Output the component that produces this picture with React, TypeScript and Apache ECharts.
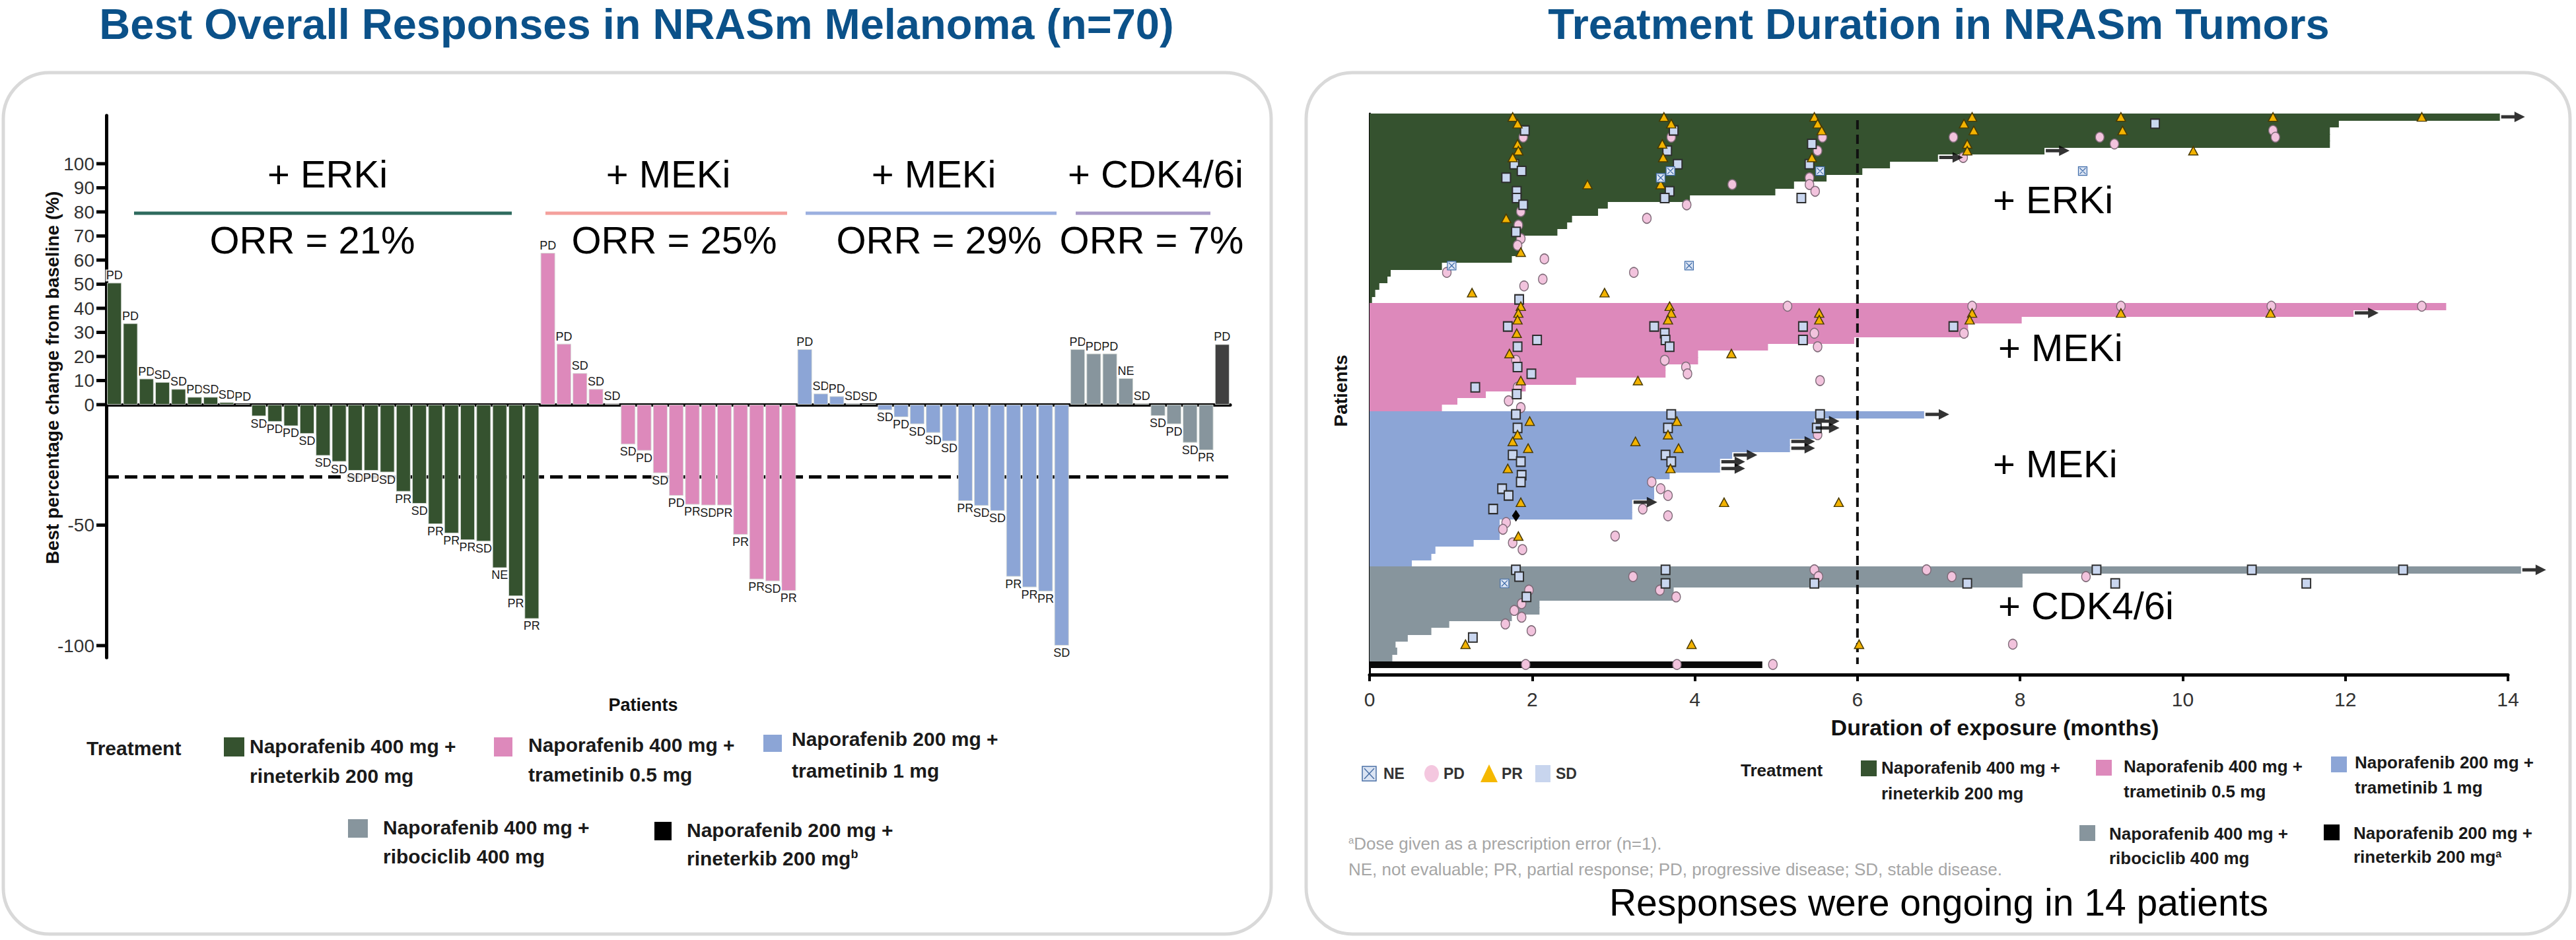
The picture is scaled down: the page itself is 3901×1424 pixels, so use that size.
import React, { useEffect, useRef } from "react";
import * as echarts from "echarts";

// ---------------- Left panel: waterfall data ----------------
const ERKI_VALUES = [50.6, 33.8, 10.8, 9.4, 6.5, 3.2, 3.2, 1, 0.3, -4.8, -7.1, -8.9, -12.1, -21.2, -23.7, -27.4, -27.4, -28.1, -36.1, -41.1, -49.6, -53.4, -56.2, -56.8, -67.8, -79.5, -88.9];
const ERKI_RESP = ["PD", "PD", "PD", "SD", "SD", "PD", "SD", "SD", "PD", "SD", "PD", "PD", "SD", "SD", "SD", "SD", "PD", "SD", "PR", "SD", "PR", "PR", "PR", "SD", "NE", "PR", "PR"];
const MEK05_VALUES = [63, 25.3, 13.1, 6.5, 0.5, -16.5, -19.1, -28.4, -37.8, -41.5, -41.8, -41.8, -54, -72.5, -73.3, -77.3];
const MEK05_RESP = ["PD", "PD", "SD", "SD", "SD", "SD", "PD", "SD", "PD", "PR", "SD", "PR", "PR", "PR", "SD", "PR"];
const MEK1_VALUES = [23, 4.6, 3.5, 0.5, 0.3, -2.3, -5.2, -8.1, -11.7, -15.2, -40, -42, -44.1, -71.4, -75.8, -77.5, -100];
const MEK1_RESP = ["PD", "SD", "PD", "SD", "SD", "SD", "PD", "SD", "SD", "SD", "PR", "SD", "SD", "PR", "PR", "PR", "SD"];
const CDK_VALUES = [23, 21.2, 21.2, 11, 0.5, -4.7, -8.1, -15.8, -18.9];
const CDK_RESP = ["PD", "PD", "PD", "NE", "SD", "SD", "PD", "SD", "PR"];
const ERK200_VALUES = [25.1];
const ERK200_RESP = ["PD"];
const Y_TICKS = [100, 90, 80, 70, 60, 50, 40, 30, 20, 10, 0, -50, -100];
const PR_THRESHOLD = -30;

// ---------------- Right panel: swimmer data ----------------
const GREEN_DUR = [13.9, 11.92, 11.81, 11.81, 11.81, 8.3, 6.99, 6.4, 6.06, 5.62, 5.22, 4.99, 3.94, 2.93, 2.81, 2.49, 2.43, 2.31, 1.87, 1.87, 1.87, 1.75, 0.89, 0.26, 0.22, 0.12, 0.07, 0.03];
const GREEN_ONGOING = [0, 5, 6];
const GREEN_ASSESS: [number, number, string][] = [
  [0, 1.76, "PR"], [1, 1.82, "PR"], [2, 1.91, "SD"], [3, 1.89, "PD"], [4, 1.82, "PR"], [5, 1.83, "PR"], [6, 1.76, "PR"], [7, 1.78, "SD"], [8, 1.87, "SD"], [9, 1.68, "SD"], [11, 1.81, "SD"], [12, 1.81, "SD"], [13, 1.89, "SD"], [14, 1.86, "PD"], [15, 1.68, "PR"], [16, 1.83, "PD"], [17, 1.8, "SD"], [18, 1.86, "PD"], [19, 1.82, "PD"], [20, 1.86, "PR"], [21, 2.15, "PD"], [22, 1.01, "NE"], [23, 0.95, "PD"], [24, 2.13, "PD"], [25, 1.9, "PD"], [26, 1.26, "PR"], [26, 2.89, "PR"], [27, 1.84, "SD"],
  [0, 3.62, "PR"], [1, 3.71, "PR"], [2, 3.74, "SD"], [3, 3.71, "PD"], [4, 3.6, "PR"], [5, 3.66, "SD"], [6, 3.61, "PR"], [7, 3.79, "SD"], [8, 3.7, "NE"], [9, 3.58, "NE"], [10, 3.58, "PR"], [10, 2.68, "PR"], [10, 4.46, "PD"], [11, 3.69, "SD"], [12, 3.63, "SD"], [13, 3.9, "PD"], [15, 3.41, "PD"], [22, 3.93, "NE"], [23, 3.25, "PD"],
  [0, 5.47, "PR"], [1, 5.51, "PR"], [2, 5.56, "PR"], [3, 5.57, "PD"], [4, 5.44, "SD"], [5, 5.51, "PD"], [6, 5.44, "PR"], [7, 5.41, "SD"], [8, 5.54, "NE"], [9, 5.41, "PD"], [10, 5.41, "PD"], [11, 5.48, "PD"], [12, 5.31, "SD"],
  [0, 7.41, "PR"], [1, 7.31, "PR"], [2, 7.43, "PR"], [3, 7.18, "PD"], [4, 7.35, "PR"], [5, 7.35, "PR"], [6, 7.3, "PD"],
  [0, 9.24, "PR"], [1, 9.66, "SD"], [2, 9.26, "PR"], [3, 8.98, "PD"], [4, 9.16, "PD"], [5, 10.13, "PR"],
  [0, 11.11, "PR"], [2, 11.11, "PD"], [3, 11.14, "PD"], [0, 12.94, "PR"], [8, 8.77, "NE"],
];
const PINK_DUR = [13.24, 12.1, 8.02, 7.36, 7.36, 5.96, 4.9, 4.04, 4.04, 3.64, 3.64, 2.54, 1.92, 1.43, 1.08, 0.89];
const PINK_ONGOING = [1];
const PINK_ASSESS: [number, number, string][] = [
  [0, 1.86, "PR"], [1, 1.83, "PR"], [2, 1.82, "PR"], [3, 1.7, "SD"], [4, 1.81, "PR"], [5, 2.06, "SD"], [6, 1.82, "SD"], [7, 1.72, "PR"], [8, 1.8, "PD"], [9, 1.82, "SD"], [10, 1.99, "SD"], [11, 1.86, "PR"], [12, 1.82, "PD"], [12, 1.3, "SD"], [13, 1.81, "SD"], [14, 1.71, "PD"], [15, 1.86, "PD"],
  [0, 3.69, "PR"], [1, 3.71, "PR"], [2, 3.67, "PR"], [3, 3.5, "SD"], [4, 3.63, "SD"], [5, 3.64, "SD"], [6, 3.69, "SD"], [7, 4.45, "PR"], [8, 3.63, "PD"], [9, 3.89, "PD"], [10, 3.91, "PD"], [11, 3.3, "PR"],
  [0, 5.14, "PD"], [1, 5.53, "PR"], [2, 5.53, "PR"], [3, 5.33, "SD"], [4, 5.47, "PD"], [5, 5.33, "SD"], [6, 5.51, "PD"], [11, 5.54, "PD"],
  [0, 7.41, "PD"], [1, 7.41, "PR"], [2, 7.38, "PR"], [3, 7.18, "SD"], [4, 7.31, "PD"], [0, 9.24, "PD"], [1, 9.24, "PR"], [0, 11.09, "PD"], [1, 11.08, "PR"], [0, 12.94, "PD"],
];
const BLUE_DUR = [6.82, 5.47, 5.47, 5.47, 5.17, 5.17, 4.46, 4.31, 4.31, 3.69, 3.5, 3.5, 3.5, 3.23, 3.23, 3.23, 1.6, 1.6, 1.6, 1.28, 0.81, 0.76, 0.52];
const BLUE_ONGOING = [0, 1, 2, 4, 5, 6, 7, 8, 13];
const BLUE_ASSESS: [number, number, string][] = [
  [0, 1.8, "SD"], [1, 1.97, "PR"], [2, 1.82, "SD"], [3, 1.82, "PR"], [4, 1.76, "PR"], [5, 1.95, "PR"], [6, 1.76, "SD"], [7, 1.86, "SD"], [8, 1.7, "PR"], [9, 1.87, "SD"], [10, 1.86, "SD"], [11, 1.63, "SD"], [12, 1.71, "SD"], [13, 1.86, "PR"], [14, 1.52, "SD"], [15, 1.8, "DOSE"], [16, 1.68, "PD"], [17, 1.64, "PD"], [18, 1.83, "PR"], [19, 1.76, "PD"], [20, 1.88, "PD"],
  [0, 3.71, "SD"], [1, 3.78, "PR"], [2, 3.67, "SD"], [3, 3.67, "PR"], [4, 3.27, "PR"], [5, 3.8, "PR"], [6, 3.64, "SD"], [7, 3.71, "SD"], [8, 3.7, "PR"], [10, 3.47, "PD"], [11, 3.58, "PD"], [12, 3.67, "PD"], [13, 4.36, "PR"], [13, 5.77, "PR"], [14, 3.36, "PD"], [15, 3.67, "PD"], [18, 3.02, "PD"],
  [0, 5.54, "SD"], [2, 5.5, "SD"], [3, 5.51, "PD"],
];
const GRAY_DUR = [14.16, 8.03, 8.03, 3.74, 3.74, 2.09, 2.09, 1.75, 0.98, 0.76, 0.47, 0.32, 0.34, 0.28];
const GRAY_ONGOING = [0];
const GRAY_ASSESS: [number, number, string][] = [
  [0, 1.8, "SD"], [1, 1.84, "SD"], [2, 1.66, "NE"], [3, 1.96, "PD"], [4, 1.93, "SD"], [5, 1.87, "PD"], [6, 1.78, "PD"], [7, 1.87, "PD"], [8, 1.67, "PD"], [9, 1.99, "PD"], [10, 1.27, "SD"], [11, 1.18, "PR"],
  [1, 3.24, "PD"], [0, 3.64, "SD"], [2, 3.64, "SD"], [3, 3.57, "PD"], [4, 3.77, "PD"], [11, 3.96, "PR"],
  [0, 5.47, "PD"], [1, 5.52, "PD"], [2, 5.47, "SD"], [11, 6.02, "PR"],
  [0, 6.85, "PD"], [1, 7.16, "PD"], [2, 7.35, "SD"], [1, 8.81, "PD"], [0, 8.94, "SD"], [2, 9.17, "SD"], [0, 10.85, "SD"], [2, 11.52, "SD"], [0, 12.71, "SD"], [11, 7.91, "PD"],
];
const BLACK_DUR = [4.83];
const BLACK_ONGOING: number[] = [];
const BLACK_ASSESS: [number, number, string][] = [[0, 1.92, "PD"], [0, 3.78, "PD"], [0, 4.96, "PD"]];
const MONTH_TICKS = [0, 2, 4, 6, 8, 10, 12, 14];
const LANDMARK_MONTH = 6;

// ---------------- Styling ----------------
const C_GREEN = "#35522f";
const C_PINK = "#dd89bb";
const C_BLUE = "#8ca5d6";
const C_GRAY = "#87959d";
const C_DARK = "#404040";
const C_BLACK = "#0a0a0a";
const TITLE_BLUE = "#0b5189";
const FONT = "'Liberation Sans', Arial, Helvetica, sans-serif";
const NARROW = "'Liberation Sans Narrow', 'Arial Narrow', 'Liberation Sans', Arial, sans-serif";

function buildOption() {
  // ---- left waterfall ----
  const leftGroups = [
    { values: ERKI_VALUES, resp: ERKI_RESP, color: C_GREEN },
    { values: MEK05_VALUES, resp: MEK05_RESP, color: C_PINK },
    { values: MEK1_VALUES, resp: MEK1_RESP, color: C_BLUE },
    { values: CDK_VALUES, resp: CDK_RESP, color: C_GRAY },
    { values: ERK200_VALUES, resp: ERK200_RESP, color: C_DARK },
  ];
  const leftData: any[] = [];
  const leftResp: string[] = [];
  leftGroups.forEach((g) =>
    g.values.forEach((v, i) => {
      leftData.push({
        value: v,
        itemStyle: { color: g.color },
        label: { position: v < 0 ? "bottom" : "top" },
      });
      leftResp.push(g.resp[i]);
    })
  );
  const leftCats = leftData.map((_, i) => "P" + (i + 1));

  // ---- right swimmer ----
  const swGroups = [
    { dur: GREEN_DUR, ongoing: GREEN_ONGOING, assess: GREEN_ASSESS, color: C_GREEN },
    { dur: PINK_DUR, ongoing: PINK_ONGOING, assess: PINK_ASSESS, color: C_PINK },
    { dur: BLUE_DUR, ongoing: BLUE_ONGOING, assess: BLUE_ASSESS, color: C_BLUE },
    { dur: GRAY_DUR, ongoing: GRAY_ONGOING, assess: GRAY_ASSESS, color: C_GRAY },
    { dur: BLACK_DUR, ongoing: BLACK_ONGOING, assess: BLACK_ASSESS, color: C_BLACK },
  ];
  const swimData: number[][] = [];
  const swimColors: string[] = [];
  const swimLast: boolean[] = [];
  const arrows: number[][] = [];
  const marks: Record<string, number[][]> = { PD: [], PR: [], SD: [], NE: [], DOSE: [] };
  let offset = 0;
  swGroups.forEach((g) => {
    g.dur.forEach((d, i) => {
      swimData.push([d, offset + i]);
      swimColors.push(g.color);
      swimLast.push(i === g.dur.length - 1);
    });
    g.ongoing.forEach((i) => arrows.push([g.dur[i], offset + i]));
    g.assess.forEach(([r, m, t]) => marks[t].push([m, offset + r]));
    offset += g.dur.length;
  });
  const rightCats = Array.from({ length: offset + 1 }, (_, i) => "R" + (i + 1));

  // ---- graphic helpers ----
  const txt = (x: number, y: number, text: string, fontSize: number, extra: any = {}, el: any = {}) => ({
    type: "text",
    x,
    y,
    silent: true,
    ...el,
    style: { text, fontSize, fontFamily: FONT, fill: "#111", align: "left", verticalAlign: "middle", ...extra },
  });
  const rect = (x: number, y: number, w: number, h: number, fill: string) => ({
    type: "rect",
    silent: true,
    shape: { x, y, width: w, height: h },
    style: { fill },
  });
  const hline = (x1: number, x2: number, y: number, stroke: string, w: number) => ({
    type: "line",
    silent: true,
    shape: { x1, y1: y, x2, y2: y },
    style: { stroke, lineWidth: w },
  });
  const legendText = (x: number, y1: number, y2: number, l1: string, l2: string, fs: number, sup?: string) => {
    const rich = {
      n: { fontSize: fs, fontWeight: "bold", fontFamily: FONT, fill: "#1a1a1a" },
      s: { fontSize: Math.round(fs * 0.6), fontWeight: "bold", fontFamily: FONT, fill: "#1a1a1a", verticalAlign: "top" },
    };
    return [
      txt(x, y1, l1, fs, { fontWeight: "bold", fill: "#1a1a1a" }),
      {
        type: "text",
        x,
        y: y2,
        silent: true,
        style: { text: sup ? `{n|${l2}}{s|${sup}}` : `{n|${l2}}`, rich, align: "left", verticalAlign: "middle" },
      },
    ];
  };

  const graphic: any[] = [
    // panel frames
    { type: "rect", silent: true, z: -10, shape: { x: 5, y: 110, width: 1920, height: 1305, r: 70 }, style: { fill: "#fff", stroke: "#d9d9d9", lineWidth: 5 } },
    { type: "rect", silent: true, z: -10, shape: { x: 1978, y: 110, width: 1914, height: 1305, r: 70 }, style: { fill: "#fff", stroke: "#d9d9d9", lineWidth: 5 } },
    // titles
    txt(964, 36, "Best Overall Responses in NRASm Melanoma (n=70)", 65, { fontWeight: "bold", fill: TITLE_BLUE, align: "center" }),
    txt(2936, 36, "Treatment Duration in NRASm Tumors", 65, { fontWeight: "bold", fill: TITLE_BLUE, align: "center" }),
    // left headers
    txt(496, 263, "+ ERKi", 58, { align: "center", fill: "#000" }),
    txt(1012, 263, "+ MEKi", 58, { align: "center", fill: "#000" }),
    txt(1414, 263, "+ MEKi", 58, { align: "center", fill: "#000" }),
    txt(1750, 263, "+ CDK4/6i", 58, { align: "center", fill: "#000" }),
    hline(203, 775, 323, "#2e6b5e", 5),
    hline(826, 1192, 323, "#f4a09c", 5),
    hline(1220, 1600, 323, "#9bb0e0", 5),
    hline(1629, 1833, 323, "#a99bc8", 5),
    txt(473, 363, "ORR = 21%", 58, { align: "center", fill: "#000" }),
    txt(1021, 363, "ORR = 25%", 58, { align: "center", fill: "#000" }),
    txt(1422, 363, "ORR = 29%", 58, { align: "center", fill: "#000" }),
    txt(1744, 363, "ORR = 7%", 58, { align: "center", fill: "#000" }),
    // left axis titles
    txt(79, 572, "Best percentage change from baseline (%)", 28, { fontWeight: "bold", align: "center" }, { rotation: Math.PI / 2 }),
    txt(974, 1068, "Patients", 27, { fontWeight: "bold", align: "center" }),
    // left legend
    txt(131, 1133, "Treatment", 30, { fontWeight: "bold", fill: "#1a1a1a" }),
    rect(339, 1117, 31, 29, C_GREEN),
    ...legendText(378, 1130, 1175, "Naporafenib 400 mg +", "rineterkib 200 mg", 30),
    rect(748, 1117, 28, 29, C_PINK),
    ...legendText(800, 1128, 1173, "Naporafenib 400 mg +", "trametinib 0.5 mg", 30),
    rect(1156, 1113, 28, 26, C_BLUE),
    ...legendText(1199, 1119, 1167, "Naporafenib 200 mg +", "trametinib 1 mg", 30),
    rect(527, 1241, 30, 28, C_GRAY),
    ...legendText(580, 1253, 1297, "Naporafenib 400 mg +", "ribociclib 400 mg", 30),
    rect(991, 1245, 26, 28, "#000"),
    ...legendText(1040, 1257, 1300, "Naporafenib 200 mg +", "rineterkib 200 mg", 30, "b"),
    // right labels in plot
    txt(3018, 302, "+ ERKi", 58, { fill: "#000" }),
    txt(3026, 526, "+ MEKi", 58, { fill: "#000" }),
    txt(3018, 702, "+ MEKi", 58, { fill: "#000" }),
    txt(3026, 917, "+ CDK4/6i", 58, { fill: "#000" }),
    // right axis titles
    txt(2030, 592, "Patients", 28, { fontWeight: "bold", align: "center" }, { rotation: Math.PI / 2 }),
    txt(3021, 1102, "Duration of exposure (months)", 34, { fontWeight: "bold", align: "center" }),
    // response symbols legend
    { type: "rect", silent: true, shape: { x: 2063, y: 1161, width: 21, height: 22 }, style: { fill: "#dbe4f3", stroke: "#4a6fa5", lineWidth: 1.5 } },
    { type: "line", silent: true, shape: { x1: 2066, y1: 1164, x2: 2081, y2: 1180 }, style: { stroke: "#4a6fa5", lineWidth: 1.5 } },
    { type: "line", silent: true, shape: { x1: 2081, y1: 1164, x2: 2066, y2: 1180 }, style: { stroke: "#4a6fa5", lineWidth: 1.5 } },
    txt(2095, 1172, "NE", 23, { fontWeight: "bold", fill: "#333" }),
    { type: "ellipse", silent: true, shape: { cx: 2168, cy: 1172, rx: 11, ry: 13 }, style: { fill: "#f4c7df" } },
    txt(2186, 1172, "PD", 23, { fontWeight: "bold", fill: "#333" }),
    { type: "polygon", silent: true, shape: { points: [[2242, 1185], [2268, 1185], [2255, 1158]] }, style: { fill: "#f5b800" } },
    txt(2274, 1172, "PR", 23, { fontWeight: "bold", fill: "#333" }),
    rect(2325, 1159, 23, 26, "#c8d5ee"),
    txt(2356, 1172, "SD", 23, { fontWeight: "bold", fill: "#333" }),
    // right treatment legend
    txt(2636, 1167, "Treatment", 26, { fontWeight: "bold", fill: "#1a1a1a" }),
    rect(2818, 1152, 24, 24, C_GREEN),
    ...legendText(2849, 1163, 1202, "Naporafenib 400 mg +", "rineterkib 200 mg", 26),
    rect(3174, 1151, 24, 24, C_PINK),
    ...legendText(3216, 1161, 1199, "Naporafenib 400 mg +", "trametinib 0.5 mg", 26),
    rect(3530, 1146, 24, 24, C_BLUE),
    ...legendText(3566, 1155, 1193, "Naporafenib 200 mg +", "trametinib 1 mg", 26),
    rect(3149, 1250, 24, 24, C_GRAY),
    ...legendText(3194, 1263, 1300, "Naporafenib 400 mg +", "ribociclib 400 mg", 26),
    rect(3519, 1249, 24, 24, "#000"),
    ...legendText(3564, 1262, 1298, "Naporafenib 200 mg +", "rineterkib 200 mg", 26, "a"),
    // footnotes
    {
      type: "text",
      x: 2042,
      y: 1278,
      silent: true,
      style: {
        text: "{s|a}{n|Dose given as a prescription error (n=1).}",
        rich: {
          n: { fontSize: 26, fontFamily: FONT, fill: "#a6a6a6" },
          s: { fontSize: 15, fontFamily: FONT, fill: "#a6a6a6", verticalAlign: "top" },
        },
        align: "left",
        verticalAlign: "middle",
      },
    },
    txt(2042, 1317, "NE, not evaluable; PR, partial response; PD, progressive disease; SD, stable disease.", 26, { fill: "#a6a6a6" }),
    txt(2936, 1367, "Responses were ongoing in 14 patients", 57, { align: "center", fill: "#000" }),
  ];

  const scatterBase = (name: string, data: number[][], symbol: string, size: any, color: string, border: string, bw: number) => ({
    type: "scatter",
    name,
    xAxisIndex: 1,
    yAxisIndex: 1,
    data,
    symbol,
    symbolSize: size,
    clip: false,
    z: 5,
    silent: true,
    itemStyle: { color, borderColor: border, borderWidth: bw, opacity: 1 },
  });

  return {
    animation: false,
    backgroundColor: "#ffffff",
    textStyle: { fontFamily: FONT },
    grid: [
      { left: 161, top: 175, width: 1702, height: 821.25, containLabel: false },
      { left: 2074, top: 172, width: 1724, height: 850, containLabel: false },
    ],
    xAxis: [
      {
        type: "category",
        gridIndex: 0,
        data: leftCats,
        axisLine: { show: true, onZero: true, lineStyle: { color: "#000", width: 5 } },
        axisTick: { show: false },
        axisLabel: { show: false },
        splitLine: { show: false },
      },
      {
        type: "value",
        gridIndex: 1,
        min: 0,
        max: 14,
        interval: 2,
        axisLine: { show: true, lineStyle: { color: "#000", width: 5 } },
        axisTick: { show: true, inside: false, length: 10, lineStyle: { color: "#000", width: 4 } },
        axisLabel: {
          fontSize: 30,
          fontFamily: NARROW,
          color: "#333",
          margin: 22,
          formatter: (v: number) => (MONTH_TICKS.includes(v) ? String(v) : ""),
        },
        splitLine: { show: false },
      },
    ],
    yAxis: [
      {
        type: "value",
        gridIndex: 0,
        min: -105,
        max: 120,
        interval: 5,
        axisLine: { show: true, lineStyle: { color: "#000", width: 5 } },
        axisTick: { show: false },
        splitLine: { show: false },
        axisLabel: {
          fontSize: 28,
          fontFamily: NARROW,
          color: "#333",
          margin: 18,
          formatter: (v: number) => (Y_TICKS.includes(v) ? String(v) : ""),
        },
      },
      {
        type: "category",
        gridIndex: 1,
        inverse: true,
        data: rightCats,
        axisLine: { show: true, lineStyle: { color: "#000", width: 3 } },
        axisTick: { show: false },
        axisLabel: { show: false },
        splitLine: { show: false },
      },
    ],
    graphic,
    series: [
      {
        type: "custom",
        name: "prline",
        xAxisIndex: 0,
        yAxisIndex: 0,
        z: 1,
        silent: true,
        clip: false,
        data: [[0, PR_THRESHOLD]],
        renderItem: (params: any, api: any) => {
          const cs = params.coordSys;
          const y = api.coord([0, api.value(1)])[1];
          return {
            type: "line",
            shape: { x1: cs.x, y1: y, x2: cs.x + cs.width, y2: y },
            style: { stroke: "#000", lineWidth: 5, lineDash: [19, 9] },
          };
        },
      },
      {
        type: "bar",
        name: "waterfall",
        xAxisIndex: 0,
        yAxisIndex: 0,
        z: 2,
        barCategoryGap: "9%",
        data: leftData,
        silent: true,
        itemStyle: { borderColor: "rgba(215,220,215,0.9)", borderWidth: 1 },
        label: {
          show: true,
          distance: 2,
          fontSize: 18,
          fontFamily: NARROW,
          color: "#1a1a1a",
          backgroundColor: "rgba(255,255,255,0.85)",
          padding: [0, 1, 0, 1],
          formatter: (p: any) => leftResp[p.dataIndex],
        },
      },
      {
        type: "custom",
        name: "yticks",
        xAxisIndex: 0,
        yAxisIndex: 0,
        z: 6,
        silent: true,
        clip: false,
        data: Y_TICKS.map((v) => [0, v]),
        renderItem: (params: any, api: any) => {
          const cs = params.coordSys;
          const y = api.coord([0, api.value(1)])[1];
          return {
            type: "line",
            shape: { x1: cs.x - 15, y1: y, x2: cs.x, y2: y },
            style: { stroke: "#000", lineWidth: 5 },
          };
        },
      },
      {
        type: "custom",
        name: "duration",
        xAxisIndex: 1,
        yAxisIndex: 1,
        z: 2,
        clip: false,
        silent: true,
        data: swimData,
        encode: { x: 0, y: 1 },
        renderItem: (params: any, api: any) => {
          const i = params.dataIndex;
          const row = api.value(1);
          const p0 = api.coord([0, row]);
          const p1 = api.coord([api.value(0), row]);
          const h = api.size([0, 1])[1];
          const top = Math.round(p0[1] - h / 2);
          const bottom = Math.round(p0[1] + h / 2) + (swimLast[i] ? 0 : 1);
          return {
            type: "rect",
            shape: { x: p0[0], y: top, width: p1[0] - p0[0], height: bottom - top },
            style: { fill: swimColors[i] },
          };
        },
      },
      {
        type: "custom",
        name: "landmark",
        xAxisIndex: 1,
        yAxisIndex: 1,
        z: 3,
        silent: true,
        clip: false,
        data: [[LANDMARK_MONTH, 0]],
        renderItem: (params: any, api: any) => {
          const cs = params.coordSys;
          const x = api.coord([api.value(0), 0])[0];
          return {
            type: "line",
            shape: { x1: x, y1: cs.y + 10, x2: x, y2: cs.y + cs.height - 16 },
            style: { stroke: "#111", lineWidth: 4, lineDash: [14, 8] },
          };
        },
      },
      scatterBase("PD", marks.PD, "circle", [13, 15], "#f2c3dd", "#7f6a78", 1.5),
      scatterBase("SD", marks.SD, "rect", [13, 14], "#c9d6ef", "#2d2d2d", 2),
      scatterBase("PR", marks.PR, "triangle", [14, 13], "#f3b300", "#4a3a00", 1.5),
      scatterBase("NE", marks.NE, "path://M0,0H10V10H0Z M1.5,1.5L8.5,8.5 M8.5,1.5L1.5,8.5", [13, 13], "#dbe4f3", "#3d6aa8", 1.2),
      scatterBase("DOSE", marks.DOSE, "diamond", [12, 18], "#000", "#000", 0),
      {
        type: "scatter",
        name: "ongoing",
        xAxisIndex: 1,
        yAxisIndex: 1,
        data: arrows,
        symbol: "path://M0,5.5 L19,5.5 L19,0 L34,8 L19,16 L19,10.5 L0,10.5 Z",
        symbolSize: [36, 16],
        symbolOffset: [20, 0],
        clip: false,
        z: 6,
        silent: true,
        itemStyle: { color: "#000" },
      },
    ],
  };
}

export default function App() {
  const ref = useRef<HTMLDivElement>(null);
  useEffect(() => {
    if (!ref.current) return;
    const chart = echarts.init(ref.current, null, { renderer: "svg" });
    chart.setOption(buildOption() as any);
    return () => chart.dispose();
  }, []);
  return (
    <div
      ref={ref}
      style={{ position: "absolute", left: 0, top: 0, width: 3901, height: 1424, background: "#fff" }}
    />
  );
}
